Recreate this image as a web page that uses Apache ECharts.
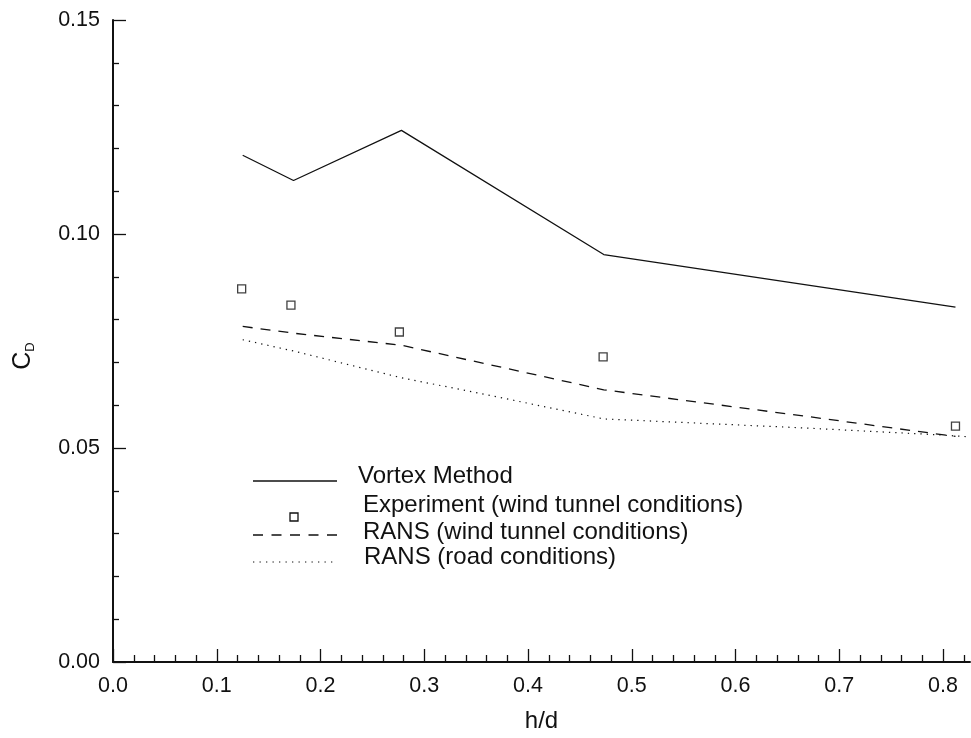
<!DOCTYPE html>
<html>
<head>
<meta charset="utf-8">
<script src="https://cdn.jsdelivr.net/npm/echarts@6/dist/echarts.min.js"></script>
<style>
  html, body { margin: 0; padding: 0; background: #fff; }
  #chart { width: 971px; height: 738px; }
</style>
</head>
<body>
<div id="chart"></div>
<script>
// Drag coefficient versus gap ratio h/d
const vortexX = [0.125, 0.174, 0.278, 0.473, 0.812];
const vortexY = [0.1184, 0.1125, 0.1242, 0.0952, 0.0829];

const expX = [0.124, 0.1715, 0.276, 0.4724, 0.812];
const expY = [0.0872, 0.0834, 0.0771, 0.0713, 0.0551];

const ransWindX = [0.125, 0.175, 0.278, 0.473, 0.665, 0.812];
const ransWindY = [0.0784, 0.0768, 0.0740, 0.0636, 0.0575, 0.0527];

const ransRoadX = [0.125, 0.175, 0.278, 0.349, 0.473, 0.537, 0.665, 0.794, 0.826];
const ransRoadY = [0.0753, 0.0726, 0.0664, 0.0630, 0.0568, 0.0561, 0.0547, 0.0531, 0.0526];

const xMajorTicks = [0, 0.1, 0.2, 0.3, 0.4, 0.5, 0.6, 0.7, 0.8];
const xMinorTicks = [0.02, 0.04, 0.06, 0.08, 0.12, 0.14, 0.16, 0.18, 0.22, 0.24, 0.26, 0.28,
  0.32, 0.34, 0.36, 0.38, 0.42, 0.44, 0.46, 0.48, 0.52, 0.54, 0.56, 0.58,
  0.62, 0.64, 0.66, 0.68, 0.72, 0.74, 0.76, 0.78, 0.82];

const legendNames = ['Vortex Method', 'Experiment (wind tunnel conditions)',
  'RANS (wind tunnel conditions)', 'RANS (road conditions)'];

const pairs = (xs, ys) => xs.map((x, i) => [x, ys[i]]);

const FONT = 'Liberation Sans, Arial, sans-serif';
const INK = '#111';
const X_MAX = 0.826;
const TICK_FONT = 21.5;
const KEY_FONT = 24;

const chart = echarts.init(document.getElementById('chart'), null, { renderer: 'canvas' });

const lineStyleBase = { color: INK, width: 1.3 };

chart.setOption({
  backgroundColor: '#fff',
  animation: false,
  grid: { left: 113, right: 1, top: 20, bottom: 75 },
  xAxis: [
    {
      type: 'value', min: 0, max: X_MAX,
      name: 'h/d', nameLocation: 'middle', nameGap: 47,
      nameTextStyle: { fontFamily: FONT, fontSize: 24, color: INK },
      axisLine: { show: true, onZero: false, lineStyle: { color: INK, width: 2 } },
      axisTick: { show: true, inside: true, length: 13, lineStyle: { color: INK, width: 1.3 },
        customValues: xMajorTicks },
      axisLabel: { show: true, margin: 13, fontFamily: FONT, fontSize: TICK_FONT, color: INK,
        customValues: xMajorTicks, formatter: v => v.toFixed(1) },
      splitLine: { show: false }
    },
    {
      type: 'value', min: 0, max: X_MAX, position: 'bottom', offset: 0,
      axisLine: { show: false },
      axisTick: { show: true, inside: true, length: 7, lineStyle: { color: INK, width: 1.3 },
        customValues: xMinorTicks },
      axisLabel: { show: false },
      splitLine: { show: false }
    }
  ],
  yAxis: {
    type: 'value', min: 0, max: 0.15, interval: 0.05,
    name: '{c|C}{d|D}', nameLocation: 'middle', nameGap: 76, nameRotate: 90,
    nameTextStyle: {
      color: INK,
      padding: [0, 30, 0, 0],
      rich: {
        c: { fontFamily: FONT, fontSize: 25, color: INK, lineHeight: 28, verticalAlign: 'middle' },
        d: { fontFamily: FONT, fontSize: 13, color: INK, lineHeight: 28, verticalAlign: 'bottom' }
      }
    },
    axisLine: { show: true, onZero: false, lineStyle: { color: INK, width: 2 } },
    axisTick: { show: true, inside: true, length: 13, lineStyle: { color: INK, width: 1.3 } },
    minorTick: { show: true, splitNumber: 5, length: 6, lineStyle: { color: INK, width: 1.3 } },
    axisLabel: { margin: 13, fontFamily: FONT, fontSize: TICK_FONT, color: INK, formatter: v => v.toFixed(2) },
    splitLine: { show: false }
  },
  series: [
    {
      name: legendNames[0], type: 'line', xAxisIndex: 0,
      data: pairs(vortexX, vortexY), showSymbol: false, symbol: 'none',
      lineStyle: Object.assign({}, lineStyleBase)
    },
    {
      name: legendNames[1], type: 'scatter', xAxisIndex: 0,
      data: pairs(expX, expY), symbol: 'rect', symbolSize: 8,
      itemStyle: { color: '#fff', borderColor: INK, borderWidth: 1.3 }
    },
    {
      name: legendNames[2], type: 'line', xAxisIndex: 0,
      data: pairs(ransWindX, ransWindY), showSymbol: false, symbol: 'none',
      lineStyle: Object.assign({}, lineStyleBase, { type: [10, 8] })
    },
    {
      name: legendNames[3], type: 'line', xAxisIndex: 0,
      data: pairs(ransRoadX, ransRoadY), showSymbol: false, symbol: 'none',
      lineStyle: Object.assign({}, lineStyleBase, { width: 1.2, type: [1.3, 5] })
    }
  ],
  // key drawn as plain shapes so each sample sits where the layout needs it
  graphic: [
    { type: 'line', shape: { x1: 253, y1: 481, x2: 337, y2: 481 },
      style: { stroke: INK, lineWidth: 1.3 } },
    { type: 'rect', shape: { x: 290, y: 513, width: 8, height: 8 },
      style: { fill: '#fff', stroke: INK, lineWidth: 1.3 } },
    { type: 'line', shape: { x1: 253, y1: 535, x2: 337, y2: 535 },
      style: { stroke: INK, lineWidth: 1.3, lineDash: [10, 8.5] } },
    { type: 'line', shape: { x1: 253, y1: 562, x2: 337, y2: 562 },
      style: { stroke: INK, lineWidth: 1.2, lineDash: [1.3, 5.2] } },
    { type: 'text', x: 358, y: 476, style: { text: legendNames[0], font: KEY_FONT + 'px ' + FONT, fill: INK, verticalAlign: 'middle' } },
    { type: 'text', x: 363, y: 505, style: { text: legendNames[1], font: KEY_FONT + 'px ' + FONT, fill: INK, verticalAlign: 'middle' } },
    { type: 'text', x: 363, y: 532, style: { text: legendNames[2], font: KEY_FONT + 'px ' + FONT, fill: INK, verticalAlign: 'middle' } },
    { type: 'text', x: 364, y: 557, style: { text: legendNames[3], font: KEY_FONT + 'px ' + FONT, fill: INK, verticalAlign: 'middle' } }
  ]
});
</script>
</body>
</html>
